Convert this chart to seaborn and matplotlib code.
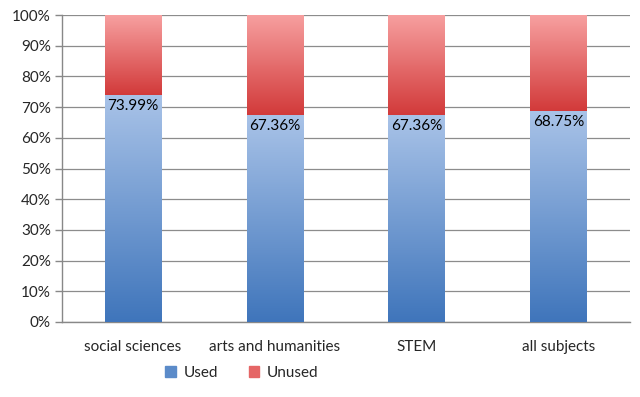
import matplotlib
matplotlib.use("Agg")
import matplotlib.pyplot as plt
import matplotlib.patches as mpatches
from matplotlib.colors import LinearSegmentedColormap
import numpy as np
import pandas as pd
import seaborn as sns

# data
subjects = ['social sciences', 'arts and humanities', 'STEM', 'all subjects']
used = [73.99, 67.36, 67.36, 68.75]
unused = [100 - u for u in used]

sns.set_theme(style='white')
plt.rcParams['font.family'] = ['Lato', 'DejaVu Sans']

df = pd.DataFrame({'subject': subjects, 'used': used,
                   'total': [u + v for u, v in zip(used, unused)]})

fig = plt.figure(figsize=(6.4, 3.97), dpi=100)
ax = fig.add_axes([0.097, 0.189, 0.887, 0.773])

sns.barplot(data=df, x='subject', y='total', color='#e05555', width=0.4,
            ax=ax, saturation=1, zorder=2)
sns.barplot(data=df, x='subject', y='used', color='#4a7ebb', width=0.4,
            ax=ax, saturation=1, zorder=2)

# Excel-like gradient fills
blue_cm = LinearSegmentedColormap.from_list('b', ['#3f75bb', '#a9c3e8'])
red_cm = LinearSegmentedColormap.from_list('r', ['#d23a3a', '#f7a0a0'])
n = len(subjects)
grad = np.linspace(0, 1, 256).reshape(-1, 1)
for i, p in enumerate(ax.patches):
    x0, y0 = p.get_x(), p.get_y()
    w, h = p.get_width(), p.get_height()
    cm = red_cm if i < n else blue_cm
    if i < n:
        # red part only above the used section
        y0 = used[i]
        h = unused[i]
    im = ax.imshow(grad, cmap=cm, aspect='auto', origin='lower',
                   extent=[x0, x0 + w, y0, y0 + h], zorder=3)
    clip = mpatches.Rectangle((x0, y0), w, h, transform=ax.transData)
    im.set_clip_path(clip)
    p.set_visible(False)

for i, u in enumerate(used):
    ax.text(i, u - 1.2, f'{u:.2f}%', ha='center', va='top', fontsize=11,
            color='black', zorder=4)

ax.set_xlim(-0.5, n - 0.5)
ax.set_ylim(0, 100)
ax.set_yticks(range(0, 101, 10))
ax.set_yticklabels([f'{t}%' for t in range(0, 101, 10)], fontsize=11)
ax.set_xlabel('')
ax.set_ylabel('')
ax.tick_params(axis='x', labelsize=11, length=0, pad=13)
ax.set_xticks(np.arange(-0.5, n, 1.0), minor=True)
ax.tick_params(axis='x', which='minor', length=5, color='#888888', width=1)
ax.tick_params(axis='y', length=5, color='#888888', width=1, left=True,
               pad=3)
ax.grid(axis='y', color='#8c8c8c', linewidth=0.9, zorder=0)
ax.set_axisbelow(True)
for s in ['top', 'right']:
    ax.spines[s].set_visible(False)
for s in ['left', 'bottom']:
    ax.spines[s].set_color('#888888')
    ax.spines[s].set_linewidth(1)

handles = [mpatches.Patch(color='#5b8bc9', label='Used'),
           mpatches.Patch(color='#e56666', label='Unused')]
fig.legend(handles=handles, loc='center', bbox_to_anchor=(0.378, 0.06),
           ncol=2, frameon=False, fontsize=11, handlelength=0.7,
           handleheight=0.7, columnspacing=2.0, handletextpad=0.5)

fig.savefig('out.png', dpi=100)
